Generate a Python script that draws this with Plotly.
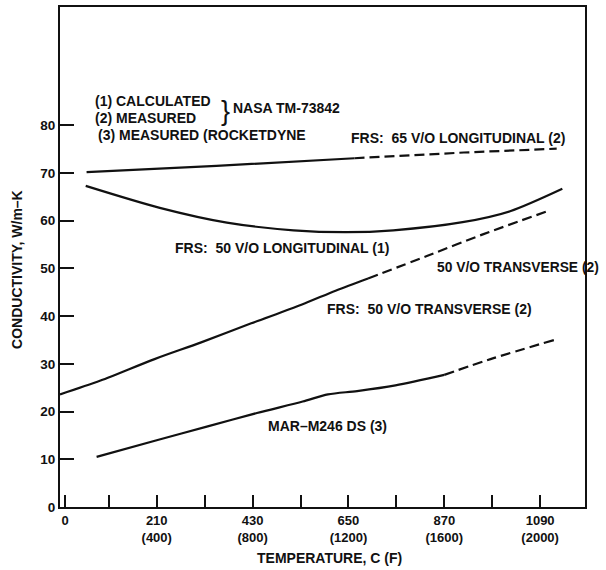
import plotly.graph_objects as go

# ---- data (temperature in C, conductivity in W/m-K) ----
lon65_solid_x = [49, 347, 664]
lon65_solid_y = [70.2, 71.5, 73.1]
lon65_dash_x = [664, 915, 1128]
lon65_dash_y = [73.1, 74.3, 75.1]

lon50_x = [47, 217, 371, 524, 645, 753, 912, 1021, 1141]
lon50_y = [67.3, 62.7, 59.6, 58.0, 57.6, 58.0, 59.7, 62.0, 66.7]

tr50_solid_x = [-12, 81, 205, 312, 427, 542, 622, 695]
tr50_solid_y = [23.6, 26.5, 31.0, 34.5, 38.5, 42.4, 45.4, 47.9]
tr50_dash_x = [695, 830, 960, 1113]
tr50_dash_y = [47.9, 52.6, 57.2, 62.2]

mar_solid_x = [72, 210, 327, 440, 545, 603, 670, 758, 870]
mar_solid_y = [10.5, 14.0, 16.9, 19.7, 22.1, 23.6, 24.3, 25.5, 27.7]
mar_dash_x = [870, 983, 1122]
mar_dash_y = [27.7, 31.2, 35.0]

x_tickvals = [0, 100, 210, 320, 430, 540, 650, 760, 870, 980, 1090]
x_ticktext = ["0", "", "210<br>(400)", "", "430<br>(800)", "", "650<br>(1200)", "",
              "870<br>(1600)", "", "1090<br>(2000)"]
y_tickvals = [0, 10, 20, 30, 40, 50, 60, 70, 80]

FONT = "Liberation Sans, Arial, Helvetica, sans-serif"
INK = "#111111"

fig = go.Figure()

def add(xs, ys, dash=None, shape="linear"):
    fig.add_trace(go.Scatter(
        x=xs, y=ys, mode="lines",
        line=dict(color=INK, width=2.2, dash=dash or "solid", shape=shape, smoothing=0.8),
        showlegend=False, hoverinfo="skip", cliponaxis=False))

DASH = "10px,5px"
add(lon65_solid_x, lon65_solid_y)
add(lon65_dash_x, lon65_dash_y, DASH)
add(lon50_x, lon50_y, shape="spline")
add(tr50_solid_x, tr50_solid_y, shape="spline")
add(tr50_dash_x, tr50_dash_y, DASH, shape="spline")
add(mar_solid_x, mar_solid_y, shape="spline")
add(mar_dash_x, mar_dash_y, DASH, shape="spline")

def label(text, x, y, size=14, anchor="left", weight="bold"):
    fig.add_annotation(x=x, y=y, xref="x", yref="y", text=text, showarrow=False,
                       xanchor=anchor, yanchor="middle",
                       font=dict(family=FONT, size=size, color=INK, weight=weight))

label("(1) CALCULATED", 63, 85.0)
label("(2) MEASURED", 63, 81.5)
label("(3) MEASURED (ROCKETDYNE", 70, 78.0)
label("}", 352, 83.1, size=27, weight="normal")
label("NASA TM-73842", 380, 83.6)
label("FRS:  65 V/O LONGITUDINAL (2)", 651, 77.3)
label("FRS:  50 V/O LONGITUDINAL (1)", 247, 54.3)
label("50 V/O TRANSVERSE (2)", 848, 50.3, size=13.8)
label("FRS:  50 V/O TRANSVERSE (2)", 596, 41.5)
label("MAR–M246 DS (3)", 461, 16.9)

fig.add_annotation(xref="paper", yref="paper", x=-0.082, y=0.476,
                   text="CONDUCTIVITY, W/m–K", textangle=-90, showarrow=False,
                   xanchor="center", yanchor="middle",
                   font=dict(family=FONT, size=14, color=INK, weight="bold"))
fig.add_annotation(xref="paper", yref="paper", x=0.514, y=-0.1016,
                   text="TEMPERATURE, C (F)", showarrow=False,
                   xanchor="center", yanchor="middle",
                   font=dict(family=FONT, size=14, color=INK, weight="bold"))

fig.update_xaxes(range=[-12, 1193], tickvals=x_tickvals, ticktext=x_ticktext,
                 ticks="inside", ticklen=12, tickwidth=2, tickcolor=INK,
                 showline=True, linewidth=2, linecolor=INK, mirror=True,
                 showgrid=False, zeroline=False,
                 tickfont=dict(family=FONT, size=13, color=INK, weight="bold"))
fig.update_yaxes(range=[0, 104.8], tickvals=y_tickvals,
                 ticks="inside", ticklen=14, tickwidth=2, tickcolor=INK,
                 showline=True, linewidth=2, linecolor=INK, mirror=True,
                 showgrid=False, zeroline=False,
                 tickfont=dict(family=FONT, size=13.5, color=INK, weight="bold"))

fig.update_layout(width=606, height=570, margin=dict(l=60, r=21, t=5, b=63),
                  paper_bgcolor="white", plot_bgcolor="white")

fig.write_html("out.html", config={"displayModeBar": False},
               post_script="document.body.style.margin='0';document.body.style.overflow='hidden';")
